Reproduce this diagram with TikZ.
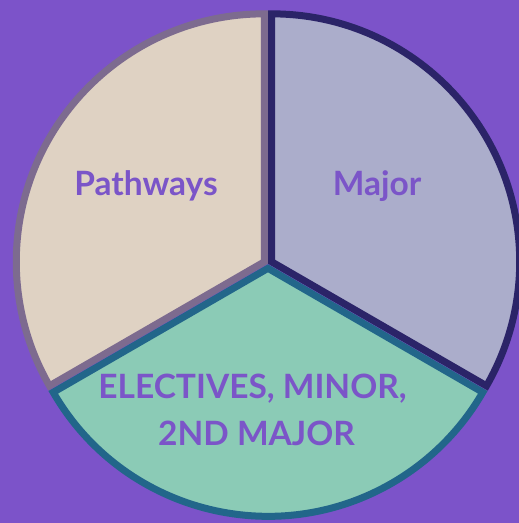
\documentclass[tikz,border=0pt]{standalone}
\usepackage{fontspec}
\usetikzlibrary{calc}
\setmainfont{Lato}
\definecolor{bg}{HTML}{7C53C9}
\definecolor{pathfill}{HTML}{DFD2C3}
\definecolor{pathline}{HTML}{7D6B8F}
\definecolor{majfill}{HTML}{ABADCB}
\definecolor{majline}{HTML}{2B2468}
\definecolor{elefill}{HTML}{8BCBB6}
\definecolor{eleline}{HTML}{22668A}
\definecolor{txt}{HTML}{7B55C8}
\begin{document}
\begin{tikzpicture}[x=1pt,y=1pt,
  sector/.style={line width=7pt,line join=miter},
  lbl/.style={text=txt,font=\fontsize{33.5}{40}\selectfont\bfseries,anchor=base,inner sep=0pt}]
\fill[bg] (0,0) rectangle (519,523);
\useasboundingbox (0,0) rectangle (519,523);
\coordinate (C) at (268,259);
\coordinate (P) at ($(C)+(150:4.3pt)$);
\coordinate (M) at ($(C)+(30:4.3pt)$);
\coordinate (T) at ($(C)+(270:4.3pt)$);
\draw[sector,fill=pathfill,draw=pathline] (P) -- ++(90:248pt) arc[start angle=90,end angle=210,radius=248pt] -- cycle;
\draw[sector,fill=majfill,draw=majline] (M) -- ++(90:248pt) arc[start angle=90,end angle=-30,radius=248pt] -- cycle;
\draw[sector,fill=elefill,draw=eleline] (T) -- ++(210:248pt) arc[start angle=210,end angle=330,radius=248pt] -- cycle;
\node[lbl] (pw) at (146,327) {Pathways};
\node[lbl] (mj) at (377,327) {Major};
\node[lbl] (el1) at (252.5,124) {ELECTIVES, MINOR,};
\node[lbl] (el2) at (256.5,77) {2ND MAJOR};
\end{tikzpicture}
\end{document}
